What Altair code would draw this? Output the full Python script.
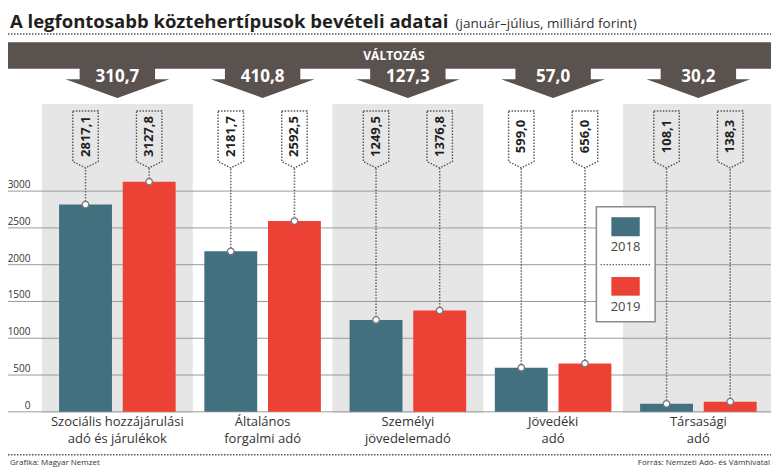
import altair as alt
import pandas as pd

# ---------------- data ----------------
categories = [
    "Szociális hozzájárulási adó és járulékok",
    "Általános forgalmi adó",
    "Személyi jövedelemadó",
    "Jövedéki adó",
    "Társasági adó",
]
label_lines = [
    "Szociális hozzájárulási\nadó és járulékok",
    "Általános\nforgalmi adó",
    "Személyi\njövedelemadó",
    "Jövedéki\nadó",
    "Társasági\nadó",
]
years = ["2018", "2019"]
values_2018 = [2817.1, 2181.7, 1249.5, 599.0, 108.1]
values_2019 = [3127.8, 2592.5, 1376.8, 656.0, 138.3]
changes = [310.7, 410.8, 127.3, 57.0, 30.2]
shaded = [True, False, True, False, True]
y_ticks = [0, 500, 1000, 1500, 2000, 2500, 3000]

title_text = "A legfontosabb köztehertípusok bevételi adatai"
subtitle_text = "(január–július, milliárd forint)"
banner_text = "VÁLTOZÁS"
footer_left = "Grafika: Magyar Nemzet"
footer_right = "Forrás: Nemzeti Adó- és Vámhivatal"

# ---------------- layout ----------------
W, H = 763, 461
SX, SY = W / 779, H / 470


def X(v):
    return v * SX


def Y(v):
    return v * SY


FONT = "Open Sans"
DARK = "#5a524f"
TEAL = "#42707f"
RED = "#ec4235"
INK = "#333333"


def fmt(v):
    return f"{v:.1f}".replace(".", ",")


rows = []
for c, a, b in zip(categories, values_2018, values_2019):
    rows.append({"cat": c, "year": years[0], "value": a, "label": fmt(a)})
    rows.append({"cat": c, "year": years[1], "value": b, "label": fmt(b)})
bars = pd.DataFrame(rows)
cat_df = pd.DataFrame({
    "cat": categories,
    "lines": label_lines,
    "change": [fmt(v) for v in changes],
    "shaded": shaded,
})
ticks_df = pd.DataFrame({"tick": y_ticks, "label": [str(t) for t in y_ticks]})
one = pd.DataFrame({"k": [0]})

# y scale: 0 at ref 411.7px, 3000 at ref 186.7px
y0 = Y(411.7)
k = (y0 - Y(186.7)) / 3000
yscale = alt.Scale(domain=[-(H - y0) / k, y0 / k], nice=False, zero=False)

# x band scale
step = X(148.3)
po = (W / step - 5) / 2
xscale = alt.Scale(domain=categories, paddingInner=0, paddingOuter=po, align=1)
bw, gap = X(54), X(11)
stepo = bw + gap
pio = gap / stepo
poo = (step / stepo - 2 + pio) / 2
xoscale = alt.Scale(domain=years, paddingInner=pio, paddingOuter=poo)
cscale = alt.Scale(domain=years, range=[TEAL, RED])


def xenc():
    return alt.X("cat:N", scale=xscale, axis=None)


def xoenc():
    return alt.XOffset("year:N", scale=xoscale)


def yenc(field):
    return alt.Y(field, scale=yscale, axis=None)


def poly_path(points, r):
    return "M" + " L".join(f"{px / r:.4f},{py / r:.4f}" for px, py in points) + " Z"


# arrow shape
a_top, a_mid, a_bot = Y(55), Y(72.7), Y(91.7)
a_cy = (a_top + a_bot) / 2
a_hh = (a_bot - a_top) / 2
sw, tw = X(38.5), X(53)
ty = a_mid - a_cy
arrow_pts = [(-sw, -a_hh), (sw, -a_hh), (sw, ty), (tw, ty), (0, a_hh), (-tw, ty), (-sw, ty)]
a_r = max(tw, a_hh)
arrow_path = poly_path(arrow_pts, a_r)
arrow_size = (2 * a_r) ** 2

# callout box shape
b_top, b_rb, b_bot = Y(105), Y(156.5), Y(163)
b_cy = (b_top + b_bot) / 2
b_hh = (b_bot - b_top) / 2
b_hw = X(13)
box_pts = [(-b_hw, -b_hh), (b_hw, -b_hh), (b_hw, b_rb - b_cy), (0, b_hh), (-b_hw, b_rb - b_cy)]
b_r = max(b_hw, b_hh)
box_path = poly_path(box_pts, b_r)
box_size = (2 * b_r) ** 2

layers = []

# title
layers.append(alt.Chart(one).mark_text(
    text=title_text, align="left", baseline="alphabetic", font=FONT,
    fontSize=18.5, fontWeight="bold", color="#231f20",
).encode(x=alt.value(X(2)), y=alt.value(Y(20.5))))
layers.append(alt.Chart(one).mark_text(
    text=subtitle_text, align="left", baseline="alphabetic", font=FONT,
    fontSize=13.5, color=INK,
).encode(x=alt.value(X(457)), y=alt.value(Y(20.5))))
layers.append(alt.Chart(one).mark_rule(
    color="#555555", strokeDash=[1.5, 1.5], strokeWidth=1.5,
).encode(x=alt.value(0), x2=alt.value(W), y=alt.value(Y(26.5))))

# banner + arrows
layers.append(alt.Chart(one).mark_rect(color=DARK).encode(
    x=alt.value(0), x2=alt.value(W), y=alt.value(Y(35)), y2=alt.value(Y(62))))
layers.append(alt.Chart(cat_df).mark_point(
    shape=arrow_path, filled=True, color=DARK, size=arrow_size, opacity=1, strokeWidth=0,
).encode(x=xenc(), y=alt.value(a_cy)))
layers.append(alt.Chart(one).mark_text(
    text=banner_text, font=FONT, fontSize=12, fontWeight="bold", color="white",
    align="center", baseline="middle",
).encode(x=alt.value(X(394)), y=alt.value(Y(48.5))))
layers.append(alt.Chart(cat_df).mark_text(
    font=FONT, fontSize=17, fontWeight="bold", color="white", align="center", baseline="middle",
).encode(x=xenc(), y=alt.value(Y(70.5)), text="change:N"))

# panels
layers.append(alt.Chart(cat_df).transform_filter("datum.shaded").mark_bar(
    width=X(154), color="#e6e6e6",
).encode(x=xenc(), y=alt.value(Y(98)), y2=alt.value(Y(413))))

# gridlines and tick labels
layers.append(alt.Chart(ticks_df).mark_rule(color="#9b9b9b", strokeWidth=1).encode(
    y=yenc("tick:Q"), x=alt.value(0), x2=alt.value(W)))
layers.append(alt.Chart(ticks_df).mark_text(
    align="right", baseline="alphabetic", dy=-3, font=FONT, fontSize=10, color=INK,
).encode(y=yenc("tick:Q"), x=alt.value(X(23)), text="label:N"))

# bars
layers.append(alt.Chart(bars).mark_bar().encode(
    x=xenc(), xOffset=xoenc(), y=yenc("value:Q"), y2=alt.datum(0),
    color=alt.Color("year:N", scale=cscale, legend=None)))

# callouts
layers.append(alt.Chart(bars).mark_rule(
    color="#666666", strokeDash=[1.5, 1.5], strokeWidth=1.5,
).encode(x=xenc(), xOffset=xoenc(), y=yenc("value:Q"), y2=alt.value(b_bot)))
layers.append(alt.Chart(bars).mark_point(
    shape="circle", filled=True, fill="white", stroke="#7a7a7a", strokeWidth=1.3,
    size=42, opacity=1,
).encode(x=xenc(), xOffset=xoenc(), y=yenc("value:Q")))
layers.append(alt.Chart(bars).mark_point(
    shape=box_path, filled=False, color="#555555", stroke="#555555", strokeWidth=1.4,
    strokeDash=[1.5, 1.5], size=box_size, opacity=1,
).encode(x=xenc(), xOffset=xoenc(), y=alt.value(b_cy)))
layers.append(alt.Chart(bars).mark_text(
    angle=270, font=FONT, fontSize=13, fontWeight="bold", color="#1e1e1e",
    align="center", baseline="middle",
).encode(x=xenc(), xOffset=xoenc(), y=alt.value(Y(131)), text="label:N"))

# legend
layers.append(alt.Chart(one).mark_rect(fill="white", stroke="#8a8a8a", strokeWidth=1.5).encode(
    x=alt.value(X(600.7)), x2=alt.value(X(660.7)), y=alt.value(Y(202.7)), y2=alt.value(Y(320))))
leg_df = pd.DataFrame({"year": years})
sw_y = {years[0]: (213.3, 232.7, 243.5), years[1]: (274.3, 293.3, 304.5)}
for yr in years:
    t, b, ly = sw_y[yr]
    layers.append(alt.Chart(leg_df).transform_filter(alt.datum.year == yr).mark_rect().encode(
        x=alt.value(X(616)), x2=alt.value(X(645)), y=alt.value(Y(t)), y2=alt.value(Y(b)),
        color=alt.Color("year:N", scale=cscale, legend=None)))
    layers.append(alt.Chart(leg_df).transform_filter(alt.datum.year == yr).mark_text(
        font=FONT, fontSize=13, color="#444444", align="center", baseline="middle",
    ).encode(x=alt.value(X(630.5)), y=alt.value(Y(ly)), text="year:N"))
layers.append(alt.Chart(one).mark_rule(
    color="#666666", strokeDash=[1.5, 1.5], strokeWidth=1.3,
).encode(x=alt.value(X(605)), x2=alt.value(X(657)), y=alt.value(Y(261.7))))

# category labels
layers.append(alt.Chart(cat_df).mark_text(
    font=FONT, fontSize=13, color=INK, align="center", baseline="top", lineBreak="\n",
    lineHeight=16.5,
).encode(x=xenc(), y=alt.value(Y(416)), text="lines:N"))

# footer
layers.append(alt.Chart(one).mark_rule(
    color="#555555", strokeDash=[1.5, 1.5], strokeWidth=1.5,
).encode(x=alt.value(0), x2=alt.value(W), y=alt.value(Y(455.5))))
layers.append(alt.Chart(one).mark_text(
    text=footer_left, font=FONT, fontSize=8, color=INK, align="left", baseline="middle",
).encode(x=alt.value(X(2)), y=alt.value(Y(463.5))))
layers.append(alt.Chart(one).mark_text(
    text=footer_right, font=FONT, fontSize=8, color=INK, align="right", baseline="middle",
).encode(x=alt.value(W - 1), y=alt.value(Y(463.5))))

chart = alt.layer(*layers).properties(
    width=W, height=H, padding=0,
    autosize=alt.AutoSizeParams(type="none"),
    background="white",
).configure_view(stroke=None)

chart.save("out.html", embed_options={"renderer": "svg", "actions": False})
